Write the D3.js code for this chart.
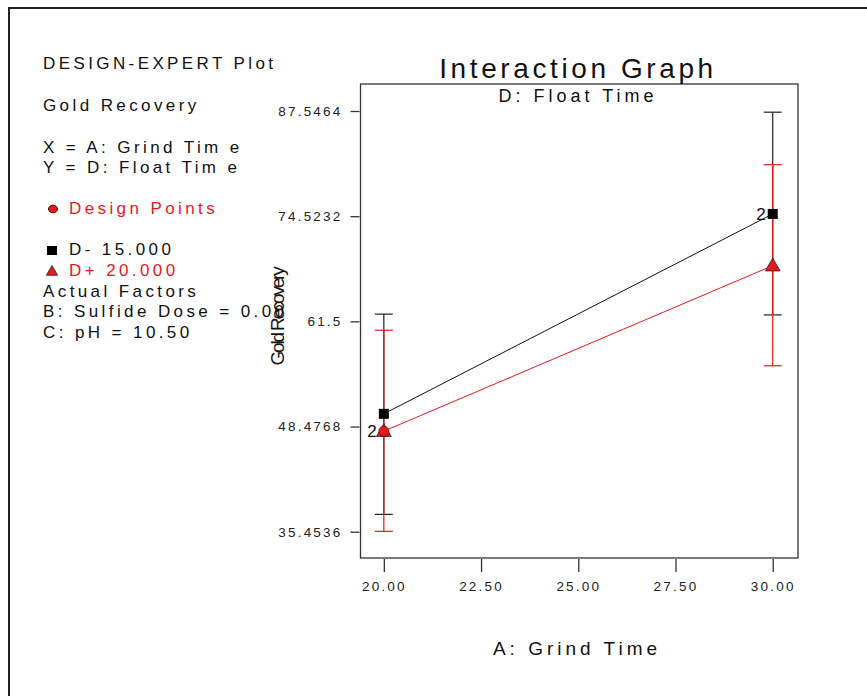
<!DOCTYPE html>
<html>
<head>
<meta charset="utf-8">
<script src="https://cdn.jsdelivr.net/npm/d3@7"></script>
<style>
  html, body { margin: 0; padding: 0; background: #fff; }
  svg { display: block; font-family: "Liberation Sans", Arial, sans-serif; }
</style>
</head>
<body>
<svg id="chart" width="867" height="696"></svg>
<script>
// Grind time levels (factor A)
const grindTimes = [20, 30];
// Float time levels (factor D)
const seriesNames = ["D- 15.000", "D+ 20.000"];
// Predicted gold recovery at each grind time
const lowFloat = [50.05, 74.8];
const highFloat = [47.9, 68.4];
// 95% LSD bars (lower, upper)
const lowFloatLower = [37.6, 62.3];
const lowFloatUpper = [62.4, 87.4];
const highFloatLower = [35.5, 56.0];
const highFloatUpper = [60.4, 80.9];
// Axis ticks
const yTicks = [35.4536, 48.4768, 61.5, 74.5232, 87.5464];
const yTickLabels = ["35.4536", "48.4768", "61.5", "74.5232", "87.5464"];
const xTicks = [20, 22.5, 25, 27.5, 30];
const xTickLabels = ["20.00", "22.50", "25.00", "27.50", "30.00"];
// Replicate counts shown next to points
const replicates = [{ x: 20, y: 47.9, n: "2" }, { x: 30, y: 74.8, n: "2" }];

const svg = d3.select("#chart");
const RED = "#e8191a";
const DARK = "#333";

// Outer frame
svg.append("rect").attr("x", 9).attr("y", 8).attr("width", 900).attr("height", 720)
  .attr("fill", "none").attr("stroke", "#222").attr("stroke-width", 2);

const plot = { left: 360.5, right: 798, top: 84, bottom: 558 };
const x = d3.scaleLinear().domain([19.4, 30.65]).range([plot.left, plot.right]);
const y = d3.scaleLinear().domain([32.2, 90.89]).range([plot.bottom, plot.top]);

// Plot box
svg.append("rect").attr("x", plot.left).attr("y", plot.top)
  .attr("width", plot.right - plot.left).attr("height", plot.bottom - plot.top)
  .attr("fill", "none").attr("stroke", DARK).attr("stroke-width", 1.3);

// Y axis
const yAxis = d3.axisLeft(y).tickValues(yTicks).tickSize(9).tickPadding(8)
  .tickFormat((d, i) => yTickLabels[i]);
const gy = svg.append("g").attr("transform", `translate(${plot.left - 1},0)`).call(yAxis);
gy.select(".domain").remove();
gy.selectAll(".tick line").attr("stroke", DARK).attr("stroke-width", 1.3);
gy.selectAll(".tick text").attr("font-size", 13.5).attr("letter-spacing", 2.2)
  .attr("fill", "#222").attr("font-family", "Liberation Sans, Arial, sans-serif");

// X axis
const xAxis = d3.axisBottom(x).tickValues(xTicks).tickSize(13).tickPadding(9)
  .tickFormat((d, i) => xTickLabels[i]);
const gx = svg.append("g").attr("transform", `translate(0,${plot.bottom + 1})`).call(xAxis);
gx.select(".domain").remove();
gx.selectAll(".tick line").attr("stroke", DARK).attr("stroke-width", 1.3);
gx.selectAll(".tick text").attr("font-size", 13.5).attr("letter-spacing", 2.2)
  .attr("fill", "#222").attr("font-family", "Liberation Sans, Arial, sans-serif");

// Titles
svg.append("text").attr("x", 578).attr("y", 78).attr("text-anchor", "middle")
  .attr("font-size", 28).attr("letter-spacing", 3.6).attr("fill", "#111").text("Interaction Graph");
svg.append("text").attr("x", 578).attr("y", 102).attr("text-anchor", "middle")
  .attr("font-size", 18).attr("letter-spacing", 4).attr("fill", "#111").text("D: Float Time");
svg.append("text").attr("x", 577).attr("y", 655).attr("text-anchor", "middle")
  .attr("font-size", 19).attr("letter-spacing", 4).attr("fill", "#111").text("A: Grind Time");
svg.append("text").attr("transform", "translate(284,317) rotate(-90)").attr("text-anchor", "middle")
  .attr("font-size", 19).attr("letter-spacing", -2.2).attr("fill", "#111").text("Gold Recovery");

// Error bars
function errorBars(lower, upper, color) {
  const g = svg.append("g").attr("stroke", color).attr("stroke-width", 1.2);
  grindTimes.forEach((t, i) => {
    const cx = x(t);
    g.append("line").attr("x1", cx).attr("x2", cx).attr("y1", y(lower[i])).attr("y2", y(upper[i]));
    [lower[i], upper[i]].forEach(v => {
      g.append("line").attr("x1", cx - 9).attr("x2", cx + 9).attr("y1", y(v)).attr("y2", y(v));
    });
  });
}
errorBars(lowFloatLower, lowFloatUpper, "#222");
errorBars(highFloatLower, highFloatUpper, RED);

// Interaction lines
const line = d3.line().x((d, i) => x(grindTimes[i])).y(d => y(d));
svg.append("path").datum(lowFloat).attr("d", line).attr("fill", "none")
  .attr("stroke", "#111").attr("stroke-width", 1);
svg.append("path").datum(highFloat).attr("d", line).attr("fill", "none")
  .attr("stroke", RED).attr("stroke-width", 1);

// Markers
const sq = d3.symbol().type(d3.symbolSquare).size(100);
const tri = d3.symbol().type(d3.symbolTriangle).size(95);
grindTimes.forEach((t, i) => {
  svg.append("path").attr("d", sq()).attr("transform", `translate(${x(t)},${y(lowFloat[i])})`)
    .attr("fill", "#000");
  svg.append("path").attr("d", tri()).attr("transform", `translate(${x(t)},${y(highFloat[i]) + 1})`)
    .attr("fill", RED).attr("stroke", "#222").attr("stroke-width", 0.8);
});
// Design point at grind time 20
svg.append("circle").attr("cx", x(20)).attr("cy", y(highFloat[0])).attr("r", 5)
  .attr("fill", RED).attr("stroke", "#600").attr("stroke-width", 0.6);

// Replicate labels
replicates.forEach(r => {
  svg.append("text").attr("x", x(r.x) - 7).attr("y", y(r.y) + 6).attr("text-anchor", "end")
    .attr("font-size", 17).attr("fill", "#111").text(r.n);
});

// Left-hand legend block
const legend = [
  { t: "DESIGN-EXPERT Plot", y: 69, x: 43, c: "#111" },
  { t: "Gold Recovery", y: 111, x: 43, c: "#111" },
  { t: "X = A: Grind Tim e", y: 153, x: 43, c: "#111" },
  { t: "Y = D: Float Tim e", y: 173, x: 43, c: "#111" },
  { t: "Design Points", y: 214, x: 69, c: RED },
  { t: seriesNames[0], y: 255, x: 69, c: "#111" },
  { t: seriesNames[1], y: 276, x: 69, c: RED },
  { t: "Actual Factors", y: 297, x: 43, c: "#111" },
  { t: "B: Sulfide Dose = 0.00", y: 317, x: 43, c: "#111" },
  { t: "C: pH = 10.50", y: 338, x: 43, c: "#111" }
];
legend.forEach(d => {
  svg.append("text").attr("x", d.x).attr("y", d.y).attr("font-size", 17)
    .attr("letter-spacing", 3.4).attr("fill", d.c).attr("xml:space", "preserve").text(d.t);
});
svg.append("ellipse").attr("cx", 53).attr("cy", 209).attr("rx", 4.5).attr("ry", 3.8)
  .attr("fill", RED).attr("stroke", "#400").attr("stroke-width", 1);
svg.append("rect").attr("x", 47).attr("y", 246).attr("width", 10).attr("height", 9).attr("fill", "#000");
svg.append("path").attr("d", d3.symbol().type(d3.symbolTriangle).size(55)())
  .attr("transform", "translate(52,272)").attr("fill", RED).attr("stroke", "#222").attr("stroke-width", 0.8);
</script>
</body>
</html>
